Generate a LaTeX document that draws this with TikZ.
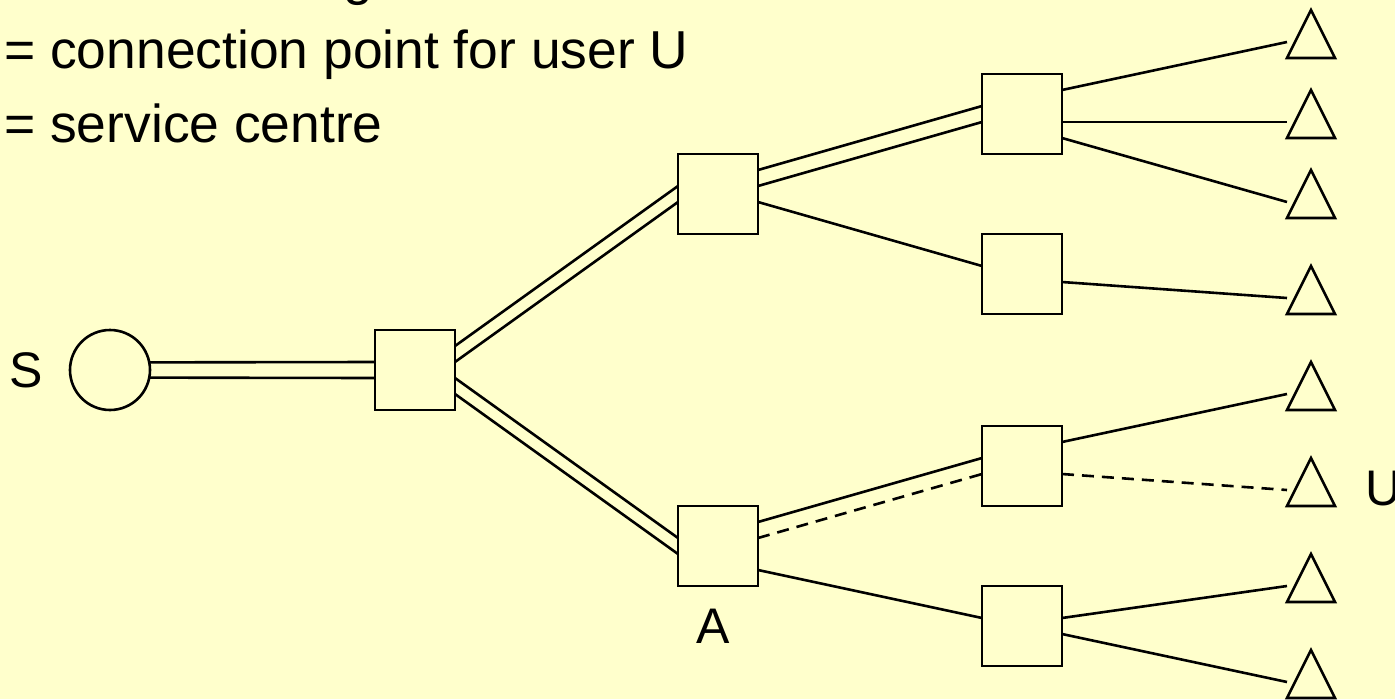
\documentclass[tikz,border=0pt]{standalone}
\usepackage{fontspec}
\setmainfont{Liberation Sans}
\usetikzlibrary{calc}
\definecolor{bgyellow}{RGB}{255,255,204}
\begin{document}
\begin{tikzpicture}[x=1pt,y=-1pt,line width=2.6pt,
  sq/.style={draw,rectangle,minimum width=80pt,minimum height=80pt,inner sep=0pt,outer sep=0pt},
  src/.style={draw,circle,minimum size=80pt,inner sep=0pt,outer sep=0pt},
  lbl/.style={font=\fontsize{50}{60}\selectfont,inner sep=0pt},
  key/.style={font=\fontsize{53.4}{64}\selectfont,inner sep=0pt,anchor=base west},
  userlink/.style={dash pattern=on 12pt off 8pt}]
\fill[bgyellow] (0,0) rectangle (1395,699);
\useasboundingbox (0,0) rectangle (1395,699);

% key text
\node[key] (k0) at (342,-6) {g};
\node[key] (k1) at (3,68) {= connection point for user U};
\node[key] (k2) at (3,142) {= service centre};

% nodes
\node[src] (s) at (110,370) {};
\node[sq] (b) at (415,370) {};
\node[sq] (c) at (718,194) {};
\node[sq] (a) at (718,546) {};
\node[sq] (r1) at (1022,114) {};
\node[sq] (r2) at (1022,274) {};
\node[sq] (r3) at (1022,466) {};
\node[sq] (r4) at (1022,626) {};

% connection points (triangles)
\coordinate (t1) at (1287,42);
\coordinate (t2) at (1287,122);
\coordinate (t3) at (1287,202);
\coordinate (t4) at (1287,298);
\coordinate (t5) at (1287,394);
\coordinate (t6) at (1287,490);
\coordinate (t7) at (1287,586);
\coordinate (t8) at (1287,682);
\foreach \t in {t1,t2,t3,t4,t5,t6,t7,t8}
  \draw (\t) ++(0,16) -- ++(24,-48) -- ++(24,48) -- cycle;

% labels
\node[lbl,anchor=base] (ls) at (26.5,387) {S};
\node[lbl,anchor=base] (la) at (713,643) {A};
\node[lbl,anchor=base west] (lu) at (1364,505) {U};

% S - B
\draw (s.11.54) -- ($(b.west)+(0,-8)$);
\draw (s.-11.54) -- ($(b.west)+(0,8)$);
% B - C
\draw ($(b.east)+(0,-24)$) -- ($(c.west)+(0,-8)$);
\draw ($(b.east)+(0,-8)$) -- ($(c.west)+(0,8)$);
% B - A
\draw ($(b.east)+(0,8)$) -- ($(a.west)+(0,-8)$);
\draw ($(b.east)+(0,24)$) -- ($(a.west)+(0,8)$);
% C - R1, C - R2
\draw ($(c.east)+(0,-24)$) -- ($(r1.west)+(0,-8)$);
\draw ($(c.east)+(0,-8)$) -- ($(r1.west)+(0,8)$);
\draw ($(c.east)+(0,8)$) -- ($(r2.west)+(0,-8)$);
% A - R3, A - R4
\draw ($(a.east)+(0,-24)$) -- ($(r3.west)+(0,-8)$);
\draw[userlink] ($(a.east)+(0,-8)$) -- ($(r3.west)+(0,8)$);
\draw ($(a.east)+(0,24)$) -- ($(r4.west)+(0,-8)$);
% R - T
\draw ($(r1.east)+(0,-24)$) -- (t1);
\draw ($(r1.east)+(0,8)$) -- (t2);
\draw ($(r1.east)+(0,24)$) -- (t3);
\draw ($(r2.east)+(0,8)$) -- (t4);
\draw ($(r3.east)+(0,-24)$) -- (t5);
\draw[userlink] ($(r3.east)+(0,8)$) -- (t6);
\draw ($(r4.east)+(0,-8)$) -- (t7);
\draw ($(r4.east)+(0,8)$) -- (t8);
\end{tikzpicture}
\end{document}
